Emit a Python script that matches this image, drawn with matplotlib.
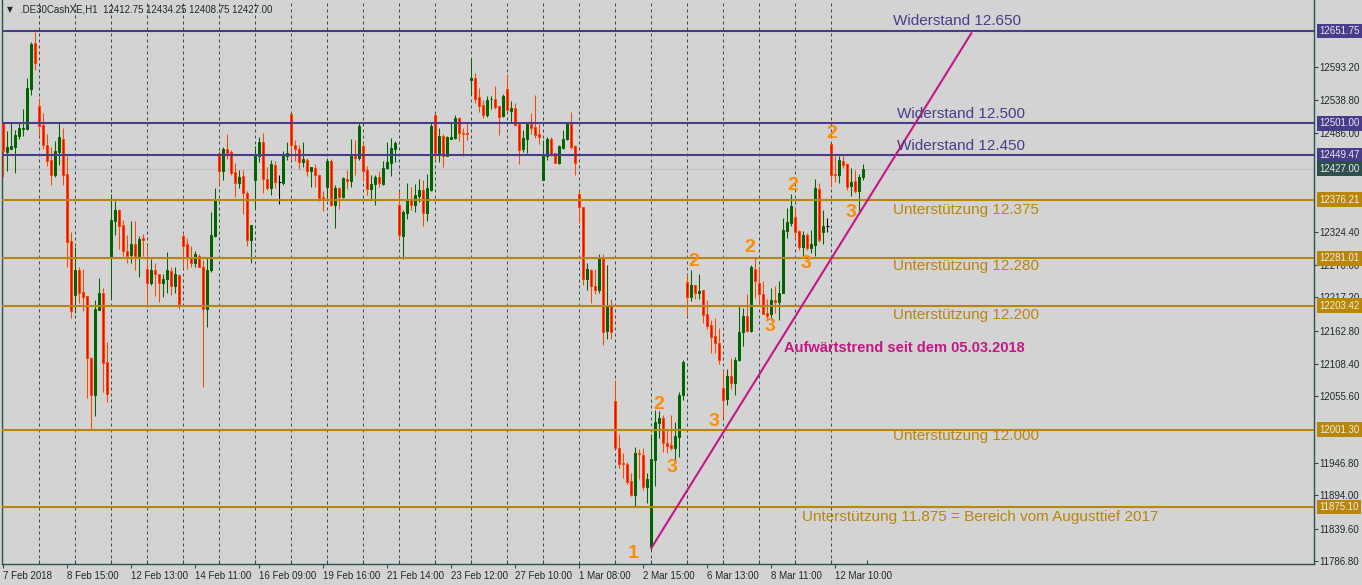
import matplotlib
matplotlib.use('Agg')
import matplotlib.pyplot as plt
from matplotlib.transforms import blended_transform_factory
import numpy as np

plt.rcParams['font.family'] = ['Liberation Sans', 'DejaVu Sans']

# DE30 Cash, H1, 7 Feb - 12 Mar 2018
opens = [12502, 12455, 12460, 12463, 12480, 12492, 12492, 12557, 12632, 12529,
         12498, 12466, 12441, 12416, 12455, 12476, 12418, 12309, 12221, 12261,
         12226, 12219, 12119, 12058, 12196, 12224, 12112, 12282, 12342, 12360,
         12335, 12293, 12286, 12304, 12285, 12314, 12263, 12241, 12262, 12256,
         12241, 12247, 12260, 12235, 12254, 12317, 12304, 12281, 12273, 12285,
         12266, 12198, 12261, 12317, 12452, 12424, 12459, 12454, 12421, 12404,
         12415, 12388, 12310, 12409, 12448, 12470, 12411, 12396, 12433, 12405,
         12403, 12447, 12516, 12465, 12459, 12438, 12442, 12423, 12429, 12417,
         12381, 12398, 12440, 12368, 12396, 12381, 12410, 12407, 12447, 12445,
         12464, 12425, 12394, 12402, 12413, 12402, 12428, 12437, 12459, 12368,
         12317, 12355, 12377, 12368, 12383, 12392, 12354, 12393, 12515, 12449,
         12480, 12448, 12476, 12477, 12510, 12486, 12486, 12571, 12575, 12544,
         12531, 12514, 12540, 12540, 12529, 12513, 12557, 12521, 12526, 12500,
         12459, 12476, 12500, 12495, 12483, 12409, 12447, 12476, 12452, 12437,
         12461, 12475, 12500, 12464, 12386, 12364, 12247, 12262, 12236, 12229,
         12283, 12163, 12205, 12048, 11971, 11947, 11945, 11918, 11894, 11963,
         11960, 11908, 11812, 11951, 12012, 12020, 11979, 11976, 11971, 11990,
         12058, 12242, 12217, 12237, 12225, 12229, 12190, 12172, 12154, 12143,
         12069, 12051, 12089, 12078, 12115, 12160, 12186, 12162, 12263, 12241,
         12223, 12192, 12190, 12213, 12210, 12225, 12325, 12339, 12349, 12325,
         12300, 12319, 12297, 12303, 12394, 12324, 12334, 12467, 12418, 12416,
         12440, 12435, 12399, 12407, 12391, 12412.75]
highs = [12504, 12489, 12501, 12490, 12502, 12524, 12575, 12634, 12650, 12542,
         12518, 12484, 12462, 12472, 12503, 12494, 12447, 12324, 12299, 12266,
         12264, 12219, 12120, 12213, 12248, 12232, 12145, 12386, 12374, 12362,
         12343, 12319, 12342, 12341, 12317, 12320, 12301, 12280, 12273, 12256,
         12256, 12291, 12266, 12266, 12256, 12322, 12314, 12301, 12292, 12288,
         12278, 12281, 12356, 12395, 12456, 12462, 12484, 12458, 12437, 12425,
         12425, 12390, 12335, 12464, 12478, 12486, 12430, 12441, 12440, 12417,
         12456, 12470, 12517, 12474, 12466, 12470, 12444, 12430, 12434, 12418,
         12391, 12444, 12443, 12400, 12398, 12414, 12425, 12476, 12474, 12501,
         12471, 12431, 12417, 12417, 12423, 12440, 12471, 12477, 12473, 12391,
         12360, 12403, 12398, 12402, 12410, 12409, 12418, 12501, 12517, 12493,
         12484, 12480, 12502, 12515, 12512, 12493, 12504, 12608, 12584, 12558,
         12539, 12546, 12546, 12562, 12529, 12549, 12581, 12538, 12535, 12501,
         12490, 12501, 12518, 12547, 12500, 12474, 12478, 12479, 12452, 12466,
         12490, 12504, 12520, 12466, 12393, 12365, 12273, 12263, 12263, 12288,
         12288, 12270, 12215, 12082, 11994, 11964, 11949, 11930, 11973, 11970,
         11971, 11930, 11994, 12033, 12032, 12025, 12002, 12025, 12013, 12063,
         12115, 12256, 12262, 12237, 12255, 12229, 12213, 12180, 12184, 12167,
         12099, 12101, 12119, 12120, 12203, 12199, 12223, 12270, 12281, 12268,
         12244, 12214, 12232, 12236, 12244, 12347, 12363, 12386, 12363, 12327,
         12325, 12322, 12327, 12411, 12404, 12360, 12346, 12467, 12447, 12447,
         12448, 12437, 12429, 12425, 12418, 12434.25]
lows = [12414, 12424, 12459, 12420, 12476, 12480, 12490, 12547, 12588, 12480,
        12460, 12431, 12400, 12414, 12433, 12400, 12266, 12184, 12192, 12208,
        12195, 12053, 12003, 12023, 12196, 12063, 12047, 12216, 12319, 12296,
        12284, 12273, 12273, 12261, 12251, 12284, 12202, 12237, 12220, 12210,
        12218, 12224, 12221, 12224, 12198, 12267, 12263, 12267, 12266, 12266,
        12071, 12168, 12259, 12316, 12400, 12409, 12443, 12417, 12381, 12395,
        12353, 12301, 12274, 12362, 12438, 12387, 12392, 12384, 12395, 12370,
        12400, 12441, 12442, 12440, 12427, 12430, 12415, 12398, 12398, 12375,
        12358, 12380, 12367, 12331, 12361, 12380, 12394, 12397, 12417, 12441,
        12407, 12384, 12376, 12368, 12398, 12400, 12427, 12415, 12438, 12313,
        12280, 12345, 12360, 12357, 12372, 12334, 12341, 12391, 12441, 12438,
        12430, 12447, 12475, 12475, 12473, 12448, 12474, 12547, 12535, 12520,
        12509, 12511, 12524, 12524, 12482, 12511, 12521, 12501, 12497, 12435,
        12455, 12452, 12484, 12477, 12467, 12409, 12442, 12447, 12436, 12435,
        12459, 12474, 12460, 12416, 12339, 12237, 12229, 12208, 12222, 12225,
        12139, 12149, 12150, 11971, 11939, 11923, 11913, 11893, 11876, 11920,
        11903, 11882, 11804, 11910, 11988, 11965, 11964, 11968, 11947, 11957,
        12050, 12187, 12212, 12214, 12214, 12176, 12165, 12127, 12126, 12108,
        12020, 12041, 12067, 12058, 12113, 12138, 12160, 12160, 12216, 12205,
        12190, 12181, 12181, 12192, 12181, 12224, 12314, 12334, 12312, 12294,
        12284, 12294, 12290, 12285, 12308, 12305, 12324, 12398, 12406, 12403,
        12428, 12392, 12383, 12388, 12358, 12408.75]
closes = [12456, 12462, 12464, 12482, 12493, 12493, 12558, 12630, 12599, 12497,
          12465, 12440, 12417, 12456, 12478, 12417, 12308, 12195, 12262, 12224,
          12218, 12119, 12058, 12198, 12224, 12110, 12059, 12343, 12360, 12334,
          12292, 12285, 12304, 12285, 12313, 12311, 12241, 12262, 12255, 12240,
          12247, 12262, 12235, 12255, 12206, 12301, 12281, 12273, 12288, 12267,
          12198, 12262, 12319, 12378, 12424, 12459, 12452, 12420, 12404, 12414,
          12387, 12310, 12335, 12449, 12470, 12411, 12396, 12434, 12405, 12405,
          12447, 12452, 12465, 12459, 12438, 12443, 12423, 12430, 12416, 12380,
          12379, 12440, 12368, 12396, 12381, 12412, 12407, 12447, 12445, 12497,
          12424, 12394, 12402, 12414, 12403, 12429, 12438, 12461, 12469, 12319,
          12357, 12376, 12368, 12384, 12393, 12354, 12395, 12496, 12452, 12480,
          12448, 12478, 12479, 12510, 12485, 12484, 12483, 12575, 12541, 12530,
          12515, 12539, 12541, 12528, 12512, 12546, 12523, 12526, 12498, 12458,
          12477, 12500, 12493, 12482, 12478, 12448, 12476, 12451, 12437, 12464,
          12476, 12501, 12463, 12437, 12364, 12247, 12263, 12235, 12229, 12283,
          12161, 12205, 12160, 11971, 11946, 11945, 11916, 11894, 11963, 11961,
          11908, 11920, 11953, 12014, 12021, 11979, 11975, 11971, 11991, 12058,
          12111, 12217, 12237, 12224, 12227, 12189, 12171, 12153, 12142, 12115,
          12050, 12089, 12078, 12115, 12161, 12186, 12162, 12266, 12244, 12223,
          12190, 12187, 12213, 12210, 12225, 12327, 12340, 12366, 12324, 12300,
          12319, 12297, 12304, 12396, 12310, 12334, 12334, 12416, 12416, 12441,
          12433, 12398, 12406, 12390, 12414, 12427.00]

# Zeitachse: Beschriftung alle 16 Kerzen, Raster alle 9 Kerzen
x_label_bars = [0, 16, 32, 48, 64, 80, 96, 112, 128, 144, 160, 176, 192, 208]
x_labels = ['7 Feb 2018', '8 Feb 15:00', '12 Feb 13:00', '14 Feb 11:00', '16 Feb 09:00',
            '19 Feb 16:00', '21 Feb 14:00', '23 Feb 12:00', '27 Feb 10:00', '1 Mar 08:00',
            '2 Mar 15:00', '6 Mar 13:00', '8 Mar 11:00', '12 Mar 10:00']
grid_bars = list(range(9, 208, 9))
minor_bars = list(range(9, 217, 9))

# sichtbare Preisskala (verdeckte Werte hinter den Boxen weggelassen)
y_ticks = [12593.20, 12538.80, 12486.00, 12324.40, 12270.00, 12217.20, 12162.80,
           12108.40, 12055.60, 11946.80, 11894.00, 11839.60, 11786.80]

# Widerstaende / Unterstuetzungen
resist_lvls = [12651.75, 12501.00, 12449.47]
resist_txt = ['Widerstand 12.650', 'Widerstand 12.500', 'Widerstand 12.450']
resist_tx = [222.4, 223.4, 223.4]
resist_ty = [12668, 12516, 12464]

support_lvls = [12376.21, 12281.01, 12203.42, 12001.30, 11875.10]
support_txt = ['Unterstützung 12.375', 'Unterstützung 12.280', 'Unterstützung 12.200',
               'Unterstützung 12.000', 'Unterstützung 11.875 = Bereich vom Augusttief 2017']
support_tx = [222.4, 222.4, 222.4, 222.4, 199.7]
support_ty = [12360, 12268, 12188, 11991, 11859]

bid = 12427.00

# Trendlinie ab 05.03.2018
trend_x = [162, 242]
trend_y = [11808, 12648]

# Wellenzaehlung
wave_txt = ['1', '2', '3', '2', '3', '2', '3', '2', '3', '2', '3']
wave_x = [157.4, 163.9, 167.2, 172.7, 177.7, 186.7, 191.7, 197.4, 200.7, 207.2, 211.9]
wave_y = [11800, 12043, 11940, 12275, 12014, 12298, 12169, 12399, 12273, 12485, 12356]

BG = '#D3D3D3'
AXC = '#2F4F4F'
PURPLE = '#483D8B'
GOLD = '#B8860B'
MAGENTA = '#C71585'
ORANGE = '#FF8C00'

fig = plt.figure(figsize=(13.62, 5.85), dpi=100, facecolor=BG)
ax = fig.add_axes([2 / 1362, 21 / 585, 1311.5 / 1362, 564 / 585])
ax.set_facecolor(BG)

o = np.array(opens, dtype=float)
h = np.array(highs, dtype=float)
l = np.array(lows, dtype=float)
c = np.array(closes, dtype=float)
idx = np.arange(len(o))
up = c > o
dn = c < o
dj = c == o

# Dochte
wcol = np.where(up, '#006400', np.where(dn, '#FF4500', '#000000'))
ax.vlines(idx, l, h, colors=wcol, linewidth=0.75, zorder=3)

# Koerper
lo = np.minimum(o, c)
hh = np.maximum(np.abs(c - o), 0.8)
ax.bar(idx[up], hh[up], bottom=lo[up], width=0.5, color='#006400',
       edgecolor='#006400', linewidth=0.72, zorder=4)
ax.bar(idx[dn], hh[dn], bottom=lo[dn], width=0.5, color='#FF0000',
       edgecolor='#FF4500', linewidth=0.72, zorder=4)
ax.hlines(c[dj], idx[dj] - 0.4, idx[dj] + 0.4, colors='#000000', linewidth=0.75, zorder=4)

# Raster
ax.vlines(grid_bars, 0, 1, transform=blended_transform_factory(ax.transData, ax.transAxes),
          colors=AXC, linewidth=0.72, linestyles=(0, (3, 3)), zorder=1)

# Linien
ax.axhline(bid, color='#C0C0C0', linewidth=0.75, zorder=2)
for v in resist_lvls:
    ax.axhline(v, color=PURPLE, linewidth=1.5, zorder=5)
for v in support_lvls:
    ax.axhline(v, color=GOLD, linewidth=1.5, zorder=5)
ax.plot(trend_x, trend_y, color=MAGENTA, linewidth=1.5, zorder=6, clip_on=False)

for s, x, y in zip(resist_txt, resist_tx, resist_ty):
    ax.text(x, y, s, color=PURPLE, fontsize=11, va='center', ha='left', zorder=7)
for s, x, y in zip(support_txt, support_tx, support_ty):
    ax.text(x, y, s, color=GOLD, fontsize=11, va='center', ha='left', zorder=7)
ax.text(195.2, 12134.5, 'Aufwärtstrend seit dem 05.03.2018', color=MAGENTA,
        fontsize=10.5, fontweight='bold', va='center', ha='left', zorder=7)

for s, x, y in zip(wave_txt, wave_x, wave_y):
    ax.text(x, y, s, color=ORANGE, fontsize=14, fontweight='bold',
            ha='center', va='center', zorder=7, clip_on=False)

# Achsen
ax.set_xlim(-0.325, 327.55)
ax.set_ylim(11782.1, 12702.3)
ax.spines['top'].set_visible(False)
for side in ['left', 'right', 'bottom']:
    ax.spines[side].set_color(AXC)
    ax.spines[side].set_linewidth(1.0)

ax.yaxis.tick_right()
ax.set_yticks(y_ticks)
ax.set_yticklabels(['%.2f' % v for v in y_ticks])
ax.tick_params(axis='y', direction='out', length=3, width=0.8, pad=1.5,
               labelsize=7, colors=AXC, labelcolor='#1E2A2A')

ax.set_xticks(x_label_bars)
ax.set_xticklabels(x_labels)
ax.set_xticks(minor_bars, minor=True)
ax.tick_params(axis='x', which='major', direction='out', length=3, width=0.8, pad=2,
               labelsize=7, colors=AXC, labelcolor='#1E2A2A')
ax.tick_params(axis='x', which='minor', direction='in', length=3, width=0.8, colors=AXC)
for t in ax.get_xticklabels():
    t.set_horizontalalignment('left')

# Preisboxen rechts
tr = blended_transform_factory(ax.transAxes, ax.transData)
bx = 1 + 5.5 / 1311.5
for v in resist_lvls:
    ax.text(bx, v, '%.2f' % v, transform=tr, fontsize=7, color='#E8E8F0', va='center',
            ha='left', clip_on=False, zorder=8,
            bbox=dict(boxstyle='square,pad=0.25', fc=PURPLE, ec='none'))
for v in support_lvls:
    ax.text(bx, v, '%.2f' % v, transform=tr, fontsize=7, color='#F0F0E0', va='center',
            ha='left', clip_on=False, zorder=8,
            bbox=dict(boxstyle='square,pad=0.25', fc=GOLD, ec='none'))
ax.text(bx, bid, '%.2f' % bid, transform=tr, fontsize=7, color='#E8E8E8', va='center',
        ha='left', clip_on=False, zorder=8,
        bbox=dict(boxstyle='square,pad=0.25', fc=AXC, ec='none'))

# Kopfzeile
fig.text(7 / 1362, 1 - 10 / 585, '▼', fontsize=5.5, color='#1E2A2A', va='center',
         family=['DejaVu Sans'])
fig.text(20 / 1362, 1 - 10 / 585,
         '.DE30CashXE,H1  %.2f %.2f %.2f %.2f' % (opens[-1], highs[-1], lows[-1], closes[-1]),
         fontsize=7, color='#1E2A2A', va='center')

fig.savefig('out.png', dpi=100, facecolor=BG)
